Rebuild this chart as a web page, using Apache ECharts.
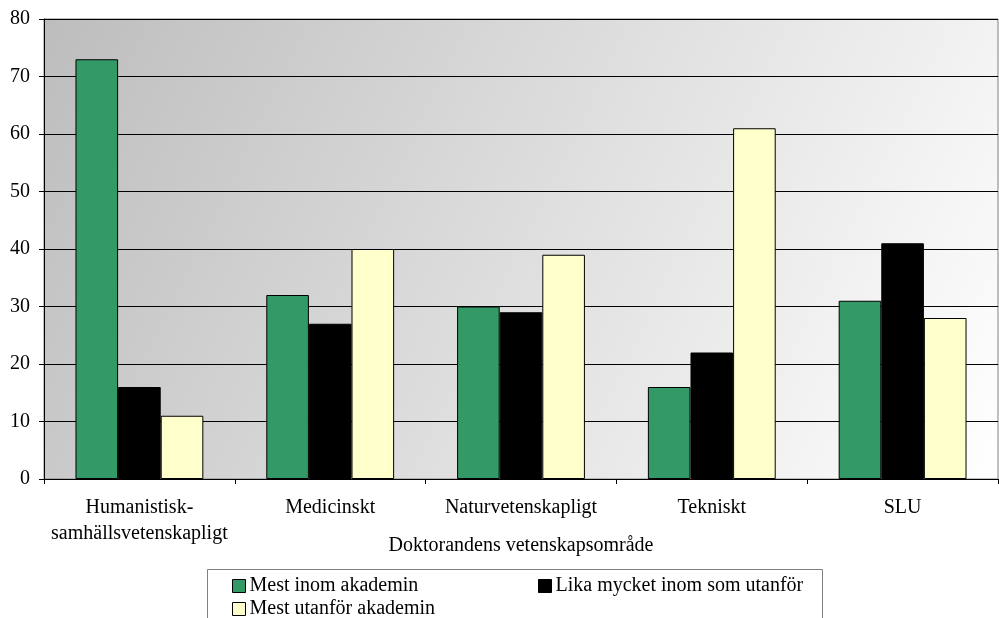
<!DOCTYPE html>
<html><head><meta charset="utf-8">
<script src="https://cdn.jsdelivr.net/npm/echarts@6/dist/echarts.min.js"></script>
<style>html,body{margin:0;padding:0;background:#fff}#c{width:999px;height:618px}</style>
</head><body><div id="c"></div>
<script>
const categories = ['Humanistisk-\nsamhällsvetenskapligt', 'Medicinskt', 'Naturvetenskapligt', 'Tekniskt', 'SLU'];
const seriesNames = ['Mest inom akademin', 'Lika mycket inom som utanför', 'Mest utanför akademin'];
const mestInom = [73, 32, 30, 16, 31];
const likaMycket = [16, 27, 29, 22, 41];
const mestUtanfor = [11, 40, 39, 61, 28];
const yTicks = [0, 10, 20, 30, 40, 50, 60, 70, 80];
const xAxisTitle = 'Doktorandens vetenskapsområde';

const font = 'Liberation Serif';
const colors = ['#339966', '#000000', '#FFFFCC'];
const chart = echarts.init(document.getElementById('c'), null, {renderer: 'canvas'});
function legendAt(name, left, top) {
  return {
    data: [name], left: left, top: top, itemWidth: 13, itemHeight: 13, padding: 0, itemGap: 0,
    icon: 'rect', itemStyle: {borderColor: '#000', borderWidth: 1},
    textStyle: {fontFamily: font, fontSize: 20, color: '#000', padding: [0, 0, 0, -1]}
  };
}
chart.setOption({
  animation: false,
  graphic: [{type: 'rect', shape: {x: 207.5, y: 569.5, width: 615, height: 100}, style: {fill: '#fff', stroke: '#808080', lineWidth: 1}, z: -1}],
  legend: [
    legendAt(seriesNames[0], 232, 576),
    legendAt(seriesNames[1], 538, 576),
    legendAt(seriesNames[2], 232, 599)
  ],
  grid: {
    left: 44, right: 1, top: 19, bottom: 139, show: true, borderColor: '#808080', borderWidth: 1,
    backgroundColor: new echarts.graphic.LinearGradient(0, 0, 1, 1, [
      {offset: 0, color: '#bdbdbd'}, {offset: 1, color: '#ffffff'}
    ])
  },
  xAxis: {
    type: 'category', data: categories,
    name: xAxisTitle, nameLocation: 'middle', nameGap: 57, nameMoveOverlap: false,
    nameTextStyle: {fontFamily: font, fontSize: 20, color: '#000'},
    axisLine: {lineStyle: {color: '#000', width: 1}},
    axisTick: {show: true, length: 5, interval: 0, lineStyle: {color: '#000'}},
    axisLabel: {fontFamily: font, fontSize: 20, color: '#000', margin: 16, lineHeight: 26, interval: 0, hideOverlap: false}
  },
  yAxis: {
    type: 'value', min: yTicks[0], max: yTicks[yTicks.length - 1], interval: 10,
    axisLine: {show: true, lineStyle: {color: '#000', width: 1}},
    axisTick: {show: true, length: 5, lineStyle: {color: '#000'}},
    axisLabel: {fontFamily: font, fontSize: 20, color: '#000', margin: 14},
    splitLine: {lineStyle: {color: '#000', width: 1}}
  },
  series: [mestInom, likaMycket, mestUtanfor].map((d, i) => ({
    name: seriesNames[i], type: 'bar', data: d, barGap: '0%', barCategoryGap: '33%',
    itemStyle: {color: colors[i], borderColor: '#000', borderWidth: 1}
  }))
});
</script></body></html>
